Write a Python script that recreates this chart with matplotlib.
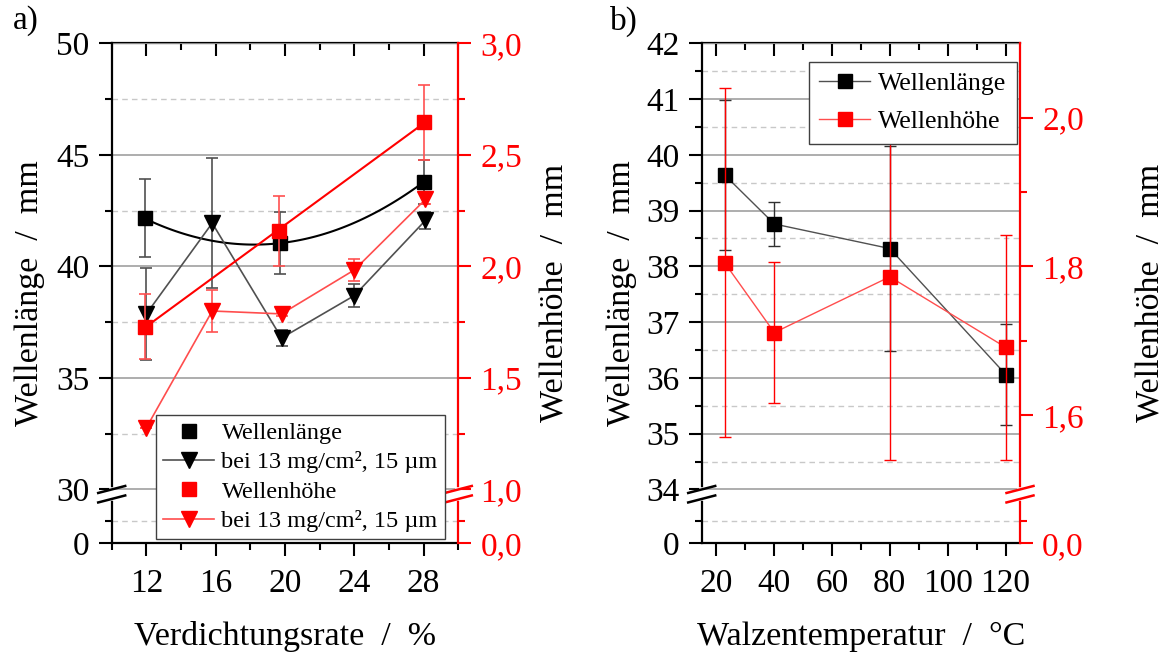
import numpy as np
import matplotlib.pyplot as plt
from matplotlib.ticker import FixedLocator, FuncFormatter, NullFormatter

plt.rcParams['font.family'] = ['Liberation Serif', 'DejaVu Serif']

# a) Verdichtungsrate
rate_lang = [11.9, 19.7, 28.0]
lang_a = [42.15, 41.04, 43.78]
lang_a_err = [1.75, 1.40, 1.0]
rate_hoehe = [11.9, 19.65, 28.0]
hoehe_a = [1.729, 2.158, 2.645]
hoehe_a_err = [0.145, 0.157, 0.17]
rate_ref = [12.0, 15.8, 19.8, 24.0, 28.1]
lang_ref = [37.87, 41.94, 36.79, 38.69, 42.06]
lang_ref_err = [2.05, 2.9, 0.36, 0.5, 0.37]
hoehe_ref = [1.277, 1.80, 1.787, 1.984, 2.30]
hoehe_ref_err = [0.0, 0.093, 0.01, 0.05, 0.02]

# b) Walzentemperatur
temp = [22.9, 40.1, 80.0, 120.1]
lang_b = [39.64, 38.76, 38.32, 36.06]
lang_b_err = [1.35, 0.40, 1.83, 0.90]
hoehe_b = [1.805, 1.711, 1.786, 1.691]
hoehe_b_err = [0.235, 0.095, 0.246, 0.151]

label_leg = "bei 13 mg/cm², 15 µm"
RED = '#ff0000'
ERR_RED = '#ff5050'
GRAY = '#505050'


def broken(brk, top):
    # lower part (0..brk) squeezed, upper part linear
    lo, hi = 53.7, 498.7
    s1 = lo / brk
    s2 = (hi - lo) / (top - brk)

    def fwd(y):
        y = np.asarray(y, dtype=float)
        return np.where(y < brk, y * s1, lo + (y - brk) * s2)

    def inv(v):
        v = np.asarray(v, dtype=float)
        return np.where(v < lo, v / s1, brk + (v - lo) / s2)
    return fwd, inv


def comma(v, pos):
    return f"{v:.1f}".replace('.', ',')


def setup(ax, tw, brk_l, top_l, maj_l, min_l, brk_r, top_r, maj_r, min_r,
          xlim, xmaj, xmin):
    ax.set_yscale('function', functions=broken(brk_l, top_l))
    tw.set_yscale('function', functions=broken(brk_r, top_r))
    ax.set_ylim(0, top_l)
    tw.set_ylim(0, top_r)
    ax.set_xlim(*xlim)
    ax.yaxis.set_major_locator(FixedLocator(maj_l))
    ax.yaxis.set_minor_locator(FixedLocator(min_l))
    ax.yaxis.set_minor_formatter(NullFormatter())
    ax.yaxis.set_major_formatter(FuncFormatter(lambda v, p: f"{v:.0f}"))
    tw.yaxis.set_major_locator(FixedLocator(maj_r))
    tw.yaxis.set_minor_locator(FixedLocator(min_r))
    tw.yaxis.set_minor_formatter(NullFormatter())
    tw.yaxis.set_major_formatter(FuncFormatter(comma))
    ax.xaxis.set_major_locator(FixedLocator(xmaj))
    ax.xaxis.set_minor_locator(FixedLocator(xmin))

    ax.set_axisbelow(True)
    ax.yaxis.grid(True, which='major', color='#a0a0a0', lw=1.2)
    ax.yaxis.grid(True, which='minor', color='#c8c8c8', lw=1.0, ls=(0, (4, 3)))

    for s in ['left', 'bottom']:
        ax.spines[s].set_linewidth(1.6)
    ax.spines['right'].set_visible(False)
    ax.spines['top'].set_visible(False)
    for s in ['left', 'top', 'bottom']:
        tw.spines[s].set_visible(False)
    tw.spines['right'].set_color(RED)
    tw.spines['right'].set_linewidth(1.6)

    ax.tick_params(axis='both', which='major', direction='out', length=9.5,
                   width=1.5, labelsize=24, pad=6.5)
    ax.tick_params(axis='both', which='minor', direction='out', length=5,
                   width=1.5)
    ax.tick_params(axis='x', which='major', pad=9)
    ax.tick_params(axis='y', right=False, which='both')
    tw.tick_params(axis='y', which='major', direction='out', length=9.5,
                   width=1.5, colors=RED, labelsize=24, pad=6.5)
    tw.tick_params(axis='y', which='minor', direction='out', length=5,
                   width=1.5, colors=RED)

    top = ax.secondary_xaxis('top')
    top.xaxis.set_major_locator(FixedLocator(xmaj))
    top.xaxis.set_minor_locator(FixedLocator(xmin))
    top.tick_params(which='major', direction='in', length=9.5, width=1.5,
                    labeltop=False)
    top.tick_params(which='minor', direction='in', length=5, width=1.5)
    top.spines['top'].set_linewidth(1.6)

    # break marks
    yb = 53.7 / 498.7
    gap = 9.5 / 500
    w = ax.get_position().width * 1171
    dx = 13.5 / w
    dy = 3.5 / 500
    for x0, col in [(0, 'black'), (1, RED)]:
        tw.plot([x0, x0], [yb - gap + 0.002, yb - 0.002], color='white', lw=4,
                transform=tw.transAxes, clip_on=False, zorder=6)
        for yc in [yb, yb - gap]:
            tw.plot([x0 - dx, x0 + dx], [yc - dy, yc + dy], color=col, lw=1.8,
                    transform=tw.transAxes, clip_on=False, zorder=7)


fig = plt.figure(figsize=(11.71, 6.58), dpi=100)
ax_a = fig.add_axes([111.7 / 1171, 1 - 543.3 / 658, 346.6 / 1171, 500 / 658])
tw_a = ax_a.twinx()
ax_b = fig.add_axes([701.7 / 1171, 1 - 543.3 / 658, 318.3 / 1171, 500 / 658])
tw_b = ax_b.twinx()

setup(ax_a, tw_a, 30, 50, [0, 30, 35, 40, 45, 50], [12.46, 32.5, 37.5, 42.5, 47.5],
      1.0, 3.0, [0.0, 1.0, 1.5, 2.0, 2.5, 3.0], [0.415, 1.25, 1.75, 2.25, 2.75],
      (10, 30), [12, 16, 20, 24, 28], [10, 14, 18, 22, 26, 30])
setup(ax_b, tw_b, 34, 42, [0, 34, 35, 36, 37, 38, 39, 40, 41, 42],
      [14.1, 34.5, 35.5, 36.5, 37.5, 38.5, 39.5, 40.5, 41.5],
      1.5, 2.1, [0.0, 1.6, 1.8, 2.0], [0.623, 1.7, 1.9],
      (15, 125), [20, 40, 60, 80, 100, 120], [30, 50, 70, 90, 110])

# ---- panel a
ax_a.errorbar(rate_lang, lang_a, yerr=lang_a_err, fmt='none', ecolor=GRAY,
              elinewidth=1.2, capsize=4, capthick=1.2, zorder=3)
ax_a.errorbar(rate_ref, lang_ref, yerr=lang_ref_err, fmt='none', ecolor=GRAY,
              elinewidth=1.2, capsize=4, capthick=1.2, zorder=3)
c2 = np.polyfit(rate_lang, lang_a, 2)
xs = np.linspace(rate_lang[0], rate_lang[-1], 100)
ax_a.plot(xs, np.polyval(c2, xs), color='black', lw=1.5, zorder=4)
h1, = ax_a.plot(rate_lang, lang_a, 's', color='black', ms=10.5, zorder=5,
                label='Wellenlänge')
h2, = ax_a.plot(rate_ref, lang_ref, 'v-', color=GRAY, mfc='black', mec='black',
                lw=1.2, ms=11.5, zorder=5, label=label_leg)

tw_a.errorbar(rate_hoehe, hoehe_a, yerr=hoehe_a_err, fmt='none', ecolor=ERR_RED,
              elinewidth=1.2, capsize=4, capthick=1.2, zorder=3)
tw_a.errorbar(rate_ref, hoehe_ref, yerr=hoehe_ref_err, fmt='none', ecolor=ERR_RED,
              elinewidth=1.2, capsize=4, capthick=1.2, zorder=3)
c1 = np.polyfit(rate_hoehe, hoehe_a, 1)
xs = np.linspace(rate_hoehe[0], rate_hoehe[-1], 10)
tw_a.plot(xs, np.polyval(c1, xs), color=RED, lw=1.5, zorder=4)
h3, = tw_a.plot(rate_hoehe, hoehe_a, 's', color=RED, ms=10.5, zorder=5,
                label='Wellenhöhe')
h4, = tw_a.plot(rate_ref, hoehe_ref, 'v-', color='#ff4d4d', mfc=RED, mec=RED,
                lw=1.2, ms=11.5, zorder=5, label=label_leg)

leg = tw_a.legend([h1, h2, h3, h4], [h.get_label() for h in [h1, h2, h3, h4]],
                  loc='lower right', bbox_to_anchor=(0.9617, 0.008),
                  borderaxespad=0, fontsize=17.5, fancybox=False, framealpha=1,
                  edgecolor='#404040', handlelength=2.1, handletextpad=0.3,
                  labelspacing=0.3, borderpad=0.3)
leg.get_frame().set_linewidth(1.0)
leg.set_zorder(10)

# ---- panel b
ax_b.errorbar(temp, lang_b, yerr=lang_b_err, fmt='none', ecolor='#303030',
              elinewidth=1.0, capsize=4, capthick=1.0, zorder=3)
g1, = ax_b.plot(temp, lang_b, 's-', color=GRAY, mfc='black', mec='black',
                lw=1.0, ms=10.5, zorder=5, label='Wellenlänge')
tw_b.errorbar(temp, hoehe_b, yerr=hoehe_b_err, fmt='none', ecolor=RED,
              elinewidth=1.0, capsize=4, capthick=1.0, zorder=3)
g2, = tw_b.plot(temp, hoehe_b, 's-', color='#ff4d4d', mfc=RED, mec=RED,
                lw=1.0, ms=10.5, zorder=5, label='Wellenhöhe')
leg = tw_b.legend([g1, g2], ['Wellenlänge', 'Wellenhöhe'], loc='upper right',
                  bbox_to_anchor=(0.9897, 0.963), borderaxespad=0, fontsize=18.5,
                  fancybox=False, framealpha=1, edgecolor='#404040',
                  handlelength=2.0, handletextpad=0.3, labelspacing=0.6,
                  borderpad=0.4)
leg.get_frame().set_linewidth(1.0)
leg.set_zorder(10)

# ---- labels
def ftext(x, y, s, **kw):
    fig.text(x / 1171, 1 - y / 658, s, ha='center', va='center', **kw)


ftext(30, 293, "Wellenlänge  /  mm", rotation=90, fontsize=24.5)
ftext(555, 293, "Wellenhöhe  /  mm", rotation=90, fontsize=24.5)
ftext(622, 293, "Wellenlänge  /  mm", rotation=90, fontsize=24.5)
ftext(1151, 293, "Wellenhöhe  /  mm", rotation=90, fontsize=24.5)
ftext(285, 637, "Verdichtungsrate  /  %", fontsize=24.5)
ftext(861, 637, "Walzentemperatur  /  °C", fontsize=24.5)
ftext(26, 21, "a)", fontsize=24)
ftext(624, 21, "b)", fontsize=24)

fig.savefig('out.png', dpi=100)
